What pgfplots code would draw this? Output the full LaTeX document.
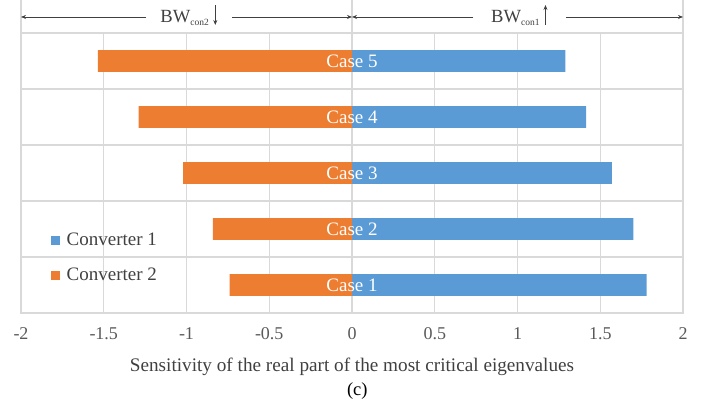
\documentclass[border=0pt]{standalone}
\usepackage{fontspec}
\setmainfont{Liberation Serif}
\usepackage{pgfplots}
\pgfplotsset{compat=1.18}
\usetikzlibrary{arrows.meta}
\definecolor{convA}{HTML}{5B9BD5}
\definecolor{convB}{HTML}{ED7D31}
\definecolor{gridc}{HTML}{D9D9D9}
\definecolor{txt}{HTML}{595959}
\definecolor{ann}{HTML}{404040}

\begin{document}
\begin{tikzpicture}[x=1pt,y=1pt]
\useasboundingbox (0,0) rectangle (702,408);
\begin{axis}[
  at={(21pt,95pt)}, anchor=south west,
  scale only axis, width=662pt, height=280pt,
  xmin=-2, xmax=2, ymin=0.5, ymax=5.5,
  xtick={-2,-1.5,-1,-0.5,0,0.5,1,1.5,2},
  xticklabels={-2,-1.5,-1,-0.5,0,0.5,1,1.5,2},
  ytick={1.5,2.5,3.5,4.5}, yticklabels={},
  major tick length=0pt,
  xmajorgrids, ymajorgrids,
  grid style={gridc, line width=1.2pt},
  axis line style={gridc, line width=1.2pt},
  xticklabel style={font=\fontsize{18}{20}\selectfont, text=txt, anchor=base, yshift=-26pt},
  xlabel={Sensitivity of the real part of the most critical eigenvalues},
  xlabel style={at={(axis description cs:0.5,0)}, anchor=base, yshift=-58pt,
    font=\fontsize{19.2}{22}\selectfont, text=ann},
  xbar, bar width=0.39, bar shift=0pt,
  clip=false,
  legend style={at={(axis description cs:0.04,0.30)}, anchor=north west,
    draw=none, fill=none, font=\fontsize{19}{22}\selectfont, text=ann,
    row sep=17pt, legend cell align=left},
  legend image code/.code={\fill[#1,/tikz/.cd,draw=none] (0pt,-4.5pt) rectangle (9pt,4.5pt);
    \path (14pt,0pt);},
]
\addplot[fill=convA, draw=none] coordinates {(1.78,1) (1.70,2) (1.57,3) (1.415,4) (1.29,5)};
\addlegendentry{Converter 1}
\addplot[fill=convB, draw=none] coordinates {(-0.74,1) (-0.84,2) (-1.02,3) (-1.29,4) (-1.535,5)};
\addlegendentry{Converter 2}

% case names centred on the zero line
\foreach \k in {1,...,5} {
  \edef\tmp{\noexpand\node[text=white, font=\noexpand\fontsize{19}{22}\noexpand\selectfont]
    at (axis cs:0,\k) {Case \k};}
  \tmp
}

% grid lines at -2, 0, 2 continue above the plot
\draw[gridc, line width=1.2pt] (axis cs:-2,5.5) -- (axis cs:-2,6.09);
\draw[gridc, line width=1.2pt] (axis cs:0,5.5) -- (axis cs:0,6.09);
\draw[gridc, line width=1.2pt] (axis cs:2,5.5) -- (axis cs:2,6.09);

% bandwidth direction annotations
\tikzset{ar/.style={ann, line width=0.7pt, -{Stealth[length=5pt,width=4pt]}}}
\draw[ar] (axis cs:-1.244,5.786) -- (axis cs:-2,5.786);
\draw[ar] (axis cs:-0.724,5.786) -- (axis cs:0,5.786);
\draw[ar] (axis cs:0.733,5.786) -- (axis cs:0,5.786);
\draw[ar] (axis cs:1.295,5.786) -- (axis cs:2,5.786);

\node[anchor=base west, inner sep=0pt, text=ann] at (axis cs:-1.159,5.679)
  {\fontsize{18.6}{20}\selectfont BW\raisebox{-3pt}{\fontsize{9.5}{10}\selectfont con2}};
\draw[ar] (axis cs:-0.826,6.0) -- (axis cs:-0.826,5.643);
\node[anchor=base west, inner sep=0pt, text=ann] at (axis cs:0.840,5.679)
  {\fontsize{18.6}{20}\selectfont BW\raisebox{-3pt}{\fontsize{9.5}{10}\selectfont con1}};
\draw[ar] (axis cs:1.169,5.643) -- (axis cs:1.169,6.0);

\node[anchor=base, inner sep=0pt, font=\fontsize{18.5}{21}\selectfont]
  at (axis description cs:0.508,0) [yshift=-82pt] {(c)};
\end{axis}
\end{tikzpicture}
\end{document}
